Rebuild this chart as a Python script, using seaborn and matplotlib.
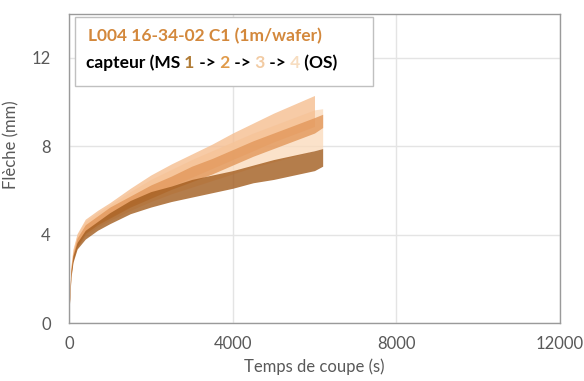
import pandas as pd
import matplotlib.pyplot as plt
from matplotlib.patches import Rectangle
import seaborn as sns

# Data: lower / upper edge of each sensor's point cloud
times = [0, 50, 100, 200, 400, 700, 1000, 1500, 2000, 2500, 3000, 3500,
         4000, 4500, 5000, 5500, 6000, 6200]

s1_low = [0.4, 2.05, 2.75, 3.35, 3.8, 4.2, 4.5, 4.95, 5.25, 5.5, 5.7, 5.9,
          6.1, 6.35, 6.5, 6.7, 6.9, 7.1]
s1_high = [0.6, 2.35, 3.05, 3.65, 4.2, 4.6, 5.0, 5.55, 5.95, 6.2, 6.5, 6.7,
           6.9, 7.15, 7.4, 7.6, 7.8, 7.9]

s2_low = [0.45, 2.15, 2.85, 3.45, 4.05, 4.45, 4.75, 5.25, 5.65, 6.05, 6.4, 6.75,
          7.15, 7.55, 7.9, 8.25, 8.6, 8.85]
s2_high = [0.65, 2.45, 3.15, 3.85, 4.45, 4.85, 5.25, 5.75, 6.25, 6.65, 7.1, 7.45,
           7.85, 8.25, 8.6, 8.95, 9.3, 9.45]

s3_low = [0.5, 2.2, 2.9, 3.55, 4.1, 4.5, 4.8, 5.3, 5.8, 6.2, 6.6, 7.0,
          7.4, 7.8, 8.2, 8.55, 8.9]
s3_high = [0.7, 2.6, 3.35, 4.05, 4.7, 5.1, 5.45, 6.1, 6.7, 7.2, 7.65, 8.1,
           8.6, 9.05, 9.5, 9.9, 10.3]

s4_low = [0.45, 2.1, 2.8, 3.4, 3.95, 4.35, 4.65, 5.1, 5.5, 5.85, 6.15, 6.45,
          6.75, 7.05, 7.3, 7.55, 7.8, 7.9]
s4_high = [0.7, 2.55, 3.3, 4.0, 4.6, 5.0, 5.35, 5.95, 6.5, 6.95, 7.4, 7.8,
           8.2, 8.6, 8.95, 9.3, 9.65, 9.7]

sensors = ["1", "2", "3", "4"]
colors = {"1": "#A25C1E", "2": "#E2975A", "3": "#F5BE90", "4": "#FADBBD"}
digit_colors = {"1": "#B07B35", "2": "#E09A4A", "3": "#F2CBA3", "4": "#F7DDC0"}

title_text = "L004 16-34-02 C1 (1m/wafer)"
xticks = [0, 4000, 8000, 12000]
yticks = [0, 4, 8, 12]

# long format: two rows per time (low and high) -> seaborn band = min..max
rows = []
for name, lo, hi in [("1", s1_low, s1_high), ("2", s2_low, s2_high),
                     ("3", s3_low, s3_high), ("4", s4_low, s4_high)]:
    for t, a, b in zip(times, lo, hi):
        rows.append((name, t, a))
        rows.append((name, t, b))
df = pd.DataFrame(rows, columns=["capteur", "temps", "fleche"])

sns.set_style("white")
plt.rcParams["font.family"] = ["Lato", "DejaVu Sans"]

fig = plt.figure(figsize=(5.84, 3.81), dpi=100)
ax = fig.add_axes([0.118, 0.152, 0.841, 0.812])

sns.lineplot(data=df, x="temps", y="fleche", hue="capteur",
             hue_order=["4", "3", "2", "1"], palette=colors,
             estimator="mean", errorbar=("pi", 100), linewidth=0,
             err_kws={"alpha": 0.8, "linewidth": 0}, legend=False, ax=ax)

ax.set_xlim(0, 12000)
ax.set_ylim(0, 14)
ax.set_xticks(xticks)
ax.set_yticks(yticks)
ax.set_xticks([2000, 6000, 10000], minor=True)
ax.set_yticks([2, 6, 10], minor=True)
ax.grid(True, which="major", color="#E4E4E4", linewidth=1)
ax.set_axisbelow(True)

ax.tick_params(which="both", direction="in", length=4, color="#8C8C8C",
               labelcolor="#595959", labelsize=12)
ax.tick_params(axis="y", pad=13)
ax.tick_params(axis="x", pad=9)
for sp in ax.spines.values():
    sp.set_color("#9A9A9A")
    sp.set_linewidth(1)

ax.set_xlabel("Temps de coupe (s)", fontsize=12, color="#595959", labelpad=5)
ax.set_ylabel("Flèche (mm)", fontsize=12, color="#595959")
ax.yaxis.set_label_coords(-0.1, 0.576)

# text box
ax.add_patch(Rectangle((0.012, 0.767), 0.607, 0.223, transform=ax.transAxes,
                       facecolor="white", edgecolor="#C0C0C0", linewidth=1,
                       zorder=5))
ax.text(0.039, 0.929, title_text, transform=ax.transAxes, color="#D3883C",
        fontsize=12.5, fontweight="bold", va="center", zorder=6)

pieces = [("capteur (MS", "black"), (" 1", digit_colors["1"]), (" ->", "black"),
          (" 2", digit_colors["2"]), (" ->", "black"), (" 3", digit_colors["3"]),
          (" ->", "black"), (" 4", digit_colors["4"]), (" (OS)", "black")]
txt = ax.text(0.035, 0.815, pieces[0][0], transform=ax.transAxes,
              color=pieces[0][1], fontsize=12.5, fontweight="bold",
              va="bottom", zorder=6)
for s, c in pieces[1:]:
    txt = ax.annotate(s, xy=(1, 0), xycoords=txt, va="bottom", color=c,
                      fontsize=12.5, fontweight="bold", zorder=6)

fig.savefig("out.png", dpi=100)
